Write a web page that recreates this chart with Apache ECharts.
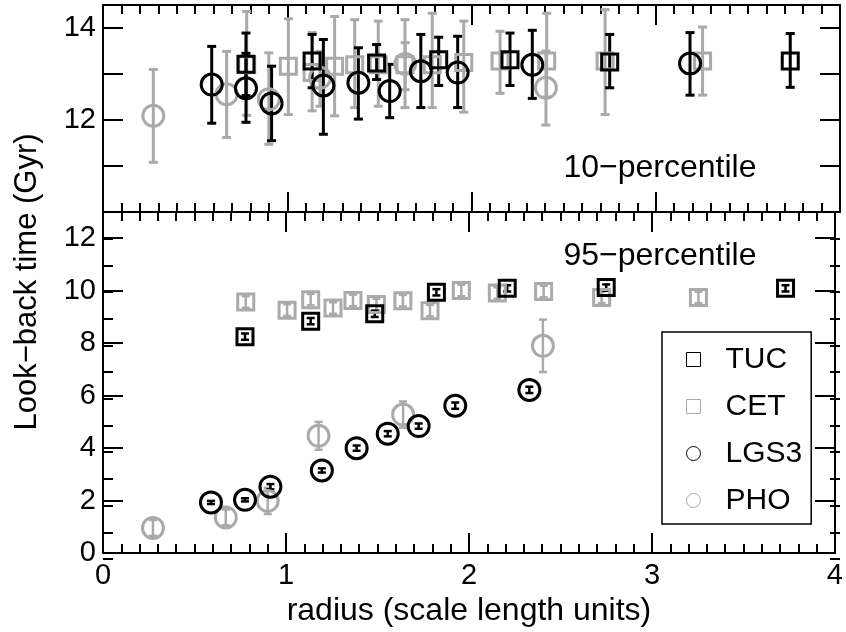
<!DOCTYPE html>
<html>
<head>
<meta charset="utf-8">
<script src="https://cdn.jsdelivr.net/npm/echarts@6/dist/echarts.min.js"></script>
<style>
html, body { margin: 0; padding: 0; background: #fff; }
#chart { width: 846px; height: 632px; }
</style>
</head>
<body>
<div id="chart"></div>
<script>
// radius in scale-length units, look-back time in Gyr
// top panel = 10-percentile (value, lower, upper), bottom panel = 95-percentile (value, +/- error)
const tucX      = [0.776, 1.135, 1.485, 1.822, 2.209, 2.75, 3.73];
const tucP10    = [13.21, 13.28, 13.24, 13.31, 13.31, 13.26, 13.28];
const tucP10Lo  = [12.53, 12.70, 12.88, 12.75, 12.75, 12.70, 12.71];
const tucP10Hi  = [13.89, 13.86, 13.64, 13.80, 13.89, 13.86, 13.88];
const tucP95    = [8.25, 8.84, 9.12, 9.94, 10.09, 10.12, 10.09];
const tucP95Err = [0.12, 0.12, 0.12, 0.12, 0.12, 0.12, 0.12];

const cetX      = [0.78, 1.006, 1.135, 1.257, 1.366, 1.494, 1.639, 1.787, 1.958, 2.155, 2.408, 2.725, 3.254];
const cetP10    = [13.2, 13.17, 13.03, 13.17, 13.2, 13.2, 13.2, 13.2, 13.25, 13.28, 13.28, 13.28, 13.28];
const cetP10Lo  = [12.1, 12.12, 12.2, 12.09, 12.27, 12.3, 12.27, 12.27, 12.17, 12.58, 12.5, 12.12, 12.54];
const cetP10Hi  = [14.36, 14.2, 13.9, 14.25, 14.18, 14.15, 14.18, 14.32, 14.15, 13.93, 14.32, 14.4, 14.02];
const cetP95    = [9.57, 9.26, 9.66, 9.34, 9.63, 9.47, 9.62, 9.24, 10.01, 9.91, 9.97, 9.74, 9.74];
const cetP95Err = [0.22, 0.22, 0.22, 0.22, 0.22, 0.22, 0.22, 0.22, 0.22, 0.22, 0.22, 0.22, 0.22];

const lgs3X      = [0.59, 0.776, 0.915, 1.196, 1.386, 1.556, 1.725, 1.925, 2.33, 3.186];
const lgs3P10    = [12.77, 12.69, 12.36, 12.75, 12.81, 12.63, 13.06, 13.03, 13.2, 13.23];
const lgs3P10Lo  = [11.93, 11.95, 11.55, 11.69, 12.02, 12.05, 12.27, 12.27, 12.47, 12.54];
const lgs3P10Hi  = [13.6, 13.45, 13.17, 13.75, 13.57, 13.21, 13.86, 13.82, 13.95, 13.9];
const lgs3P95    = [1.93, 2.03, 2.53, 3.15, 4.0, 4.55, 4.84, 5.62, 6.22, null];
const lgs3P95Err = [0.06, 0.06, 0.1, 0.08, 0.1, 0.1, 0.1, 0.12, 0.12, null];

const phoX      = [0.273, 0.671, 0.9, 1.178, 1.64, 2.404];
const phoP10    = [12.09, 12.56, 12.45, 12.92, 13.22, 12.7];
const phoP10Lo  = [11.08, 11.62, 11.47, 12.3, 12.66, 11.89];
const phoP10Hi  = [13.1, 13.49, 13.46, 13.49, 13.68, 13.5];
const phoP95    = [0.96, 1.36, 1.99, 4.47, 5.28, 7.9];
const phoP95Err = [0.3, 0.3, 0.5, 0.53, 0.5, 1.0];

const xTicks = [0, 1, 2, 3, 4];
const topLabels = [12, 14];
const bottomLabels = [0, 2, 4, 6, 8, 10, 12];

const FONT = "'Liberation Sans', Arial, Helvetica, sans-serif";
const BLACK = '#000000';
const GRAY = '#aaaaaa';

function errorBarRenderer(color, cap, width) {
  return function (params, api) {
    const x = api.value(0);
    const lo = api.coord([x, api.value(1)]);
    const hi = api.coord([x, api.value(2)]);
    const mk = (x1, y1, x2, y2) => ({
      type: 'line',
      shape: { x1: x1, y1: y1, x2: x2, y2: y2 },
      style: { stroke: color, lineWidth: width }
    });
    return {
      type: 'group',
      children: [
        mk(lo[0], lo[1], hi[0], hi[1]),
        mk(lo[0] - cap, lo[1], lo[0] + cap, lo[1]),
        mk(hi[0] - cap, hi[1], hi[0] + cap, hi[1])
      ]
    };
  };
}

function errRows(x, lo, hi) {
  const out = [];
  for (let i = 0; i < x.length; i++) {
    if (lo[i] == null) continue;
    out.push([x[i], lo[i], hi[i]]);
  }
  return out;
}
function symErrRows(x, y, e) {
  const out = [];
  for (let i = 0; i < x.length; i++) {
    if (y[i] == null) continue;
    out.push([x[i], y[i] - e[i], y[i] + e[i]]);
  }
  return out;
}
function pts(x, y) {
  const out = [];
  for (let i = 0; i < x.length; i++) {
    if (y[i] == null) continue;
    out.push([x[i], y[i]]);
  }
  return out;
}

function errSeries(name, color, panel, rows, cap, width) {
  return {
    name: name,
    type: 'custom',
    xAxisIndex: panel === 0 ? 0 : 2,
    yAxisIndex: panel === 0 ? 0 : 2,
    silent: true,
    animation: false,
    renderItem: errorBarRenderer(color, cap, width),
    encode: { x: 0, y: [1, 2] },
    data: rows
  };
}
function markSeries(name, color, panel, data, symbol, size) {
  return {
    name: name,
    type: 'scatter',
    xAxisIndex: panel === 0 ? 0 : 2,
    yAxisIndex: panel === 0 ? 0 : 2,
    silent: true,
    animation: false,
    symbol: symbol,
    symbolSize: size,
    itemStyle: { color: 'rgba(0,0,0,0)', borderColor: color, borderWidth: 3, opacity: 1 },
    data: data
  };
}

function xAxisCfg(gridIndex, position, labels) {
  return {
    type: 'value', gridIndex: gridIndex, position: position,
    min: 0, max: 4, interval: 1,
    axisLine: { show: true, onZero: false, lineStyle: { color: BLACK, width: 2 } },
    axisTick: { show: true, inside: true, length: 20, lineStyle: { color: BLACK, width: 2 } },
    minorTick: { show: true, splitNumber: 10, length: 9, lineStyle: { color: BLACK, width: 2 } },
    splitLine: { show: false },
    axisLabel: {
      show: labels, fontSize: 29, fontFamily: FONT, color: BLACK, margin: 8,
      formatter: v => (xTicks.indexOf(v) >= 0 ? String(v) : '')
    }
  };
}
function yAxisCfg(gridIndex, position, min, max, interval, len, labelList, line) {
  return {
    type: 'value', gridIndex: gridIndex, position: position,
    min: min, max: max, interval: interval,
    axisLine: { show: line, onZero: false, lineStyle: { color: BLACK, width: 2 } },
    axisTick: { show: true, inside: true, length: len, lineStyle: { color: BLACK, width: 2 } },
    splitLine: { show: false },
    axisLabel: {
      show: !!labelList, fontSize: 29, fontFamily: FONT, color: BLACK, margin: 7,
      formatter: v => (labelList && labelList.indexOf(v) >= 0 ? String(v) : '')
    }
  };
}

const series = [
  // gray first, black on top
  errSeries('CET', GRAY, 0, errRows(cetX, cetP10Lo, cetP10Hi), 4.5, 3),
  markSeries('CET', GRAY, 0, pts(cetX, cetP10), 'rect', 16),
  errSeries('PHO', GRAY, 0, errRows(phoX, phoP10Lo, phoP10Hi), 4.5, 3),
  markSeries('PHO', GRAY, 0, pts(phoX, phoP10), 'circle', 21),
  errSeries('TUC', BLACK, 0, errRows(tucX, tucP10Lo, tucP10Hi), 4.5, 3),
  markSeries('TUC', BLACK, 0, pts(tucX, tucP10), 'rect', 16),
  errSeries('LGS3', BLACK, 0, errRows(lgs3X, lgs3P10Lo, lgs3P10Hi), 4.5, 3),
  markSeries('LGS3', BLACK, 0, pts(lgs3X, lgs3P10), 'circle', 21),

  errSeries('CET', GRAY, 1, symErrRows(cetX, cetP95, cetP95Err), 4, 2.5),
  markSeries('CET', GRAY, 1, pts(cetX, cetP95), 'rect', 16),
  errSeries('PHO', GRAY, 1, symErrRows(phoX, phoP95, phoP95Err), 4, 2.5),
  markSeries('PHO', GRAY, 1, pts(phoX, phoP95), 'circle', 21),
  errSeries('TUC', BLACK, 1, symErrRows(tucX, tucP95, tucP95Err), 4, 2.5),
  markSeries('TUC', BLACK, 1, pts(tucX, tucP95), 'rect', 16),
  errSeries('LGS3', BLACK, 1, symErrRows(lgs3X, lgs3P95, lgs3P95Err), 4, 2.5),
  markSeries('LGS3', BLACK, 1, pts(lgs3X, lgs3P95), 'circle', 21)
];

const chart = echarts.init(document.getElementById('chart'), null, { renderer: 'canvas' });
chart.setOption({
  backgroundColor: '#ffffff',
  animation: false,
  grid: [
    { left: 103, right: 6, top: 5, height: 207 },
    { left: 103, right: 6, top: 212, bottom: 73 },
    { left: 103, right: 6, top: 212, bottom: 73 } // short odd-value ticks of the lower panel
  ],
  xAxis: [
    xAxisCfg(0, 'bottom', false),
    xAxisCfg(0, 'top', false),
    Object.assign(xAxisCfg(1, 'bottom', true), {
      name: 'radius (scale length units)',
      nameLocation: 'middle',
      nameGap: 38,
      nameTextStyle: { fontSize: 32, fontFamily: FONT, color: BLACK }
    }),
    xAxisCfg(1, 'top', false),
    { type: 'value', gridIndex: 2, min: 0, max: 4, show: false }
  ],
  yAxis: [
    yAxisCfg(0, 'left', 10, 14.5, 1, 20, topLabels, true),
    yAxisCfg(0, 'right', 10, 14.5, 1, 20, null, true),
    yAxisCfg(1, 'left', 0, 13, 2, 20, bottomLabels, true),
    yAxisCfg(1, 'right', 0, 13, 2, 20, null, true),
    yAxisCfg(2, 'left', 0, 13, 1, 10, null, false),
    yAxisCfg(2, 'right', 0, 13, 1, 10, null, false)
  ],
  legend: {
    orient: 'vertical',
    left: 662,
    top: 332,
    padding: [12, 9, 8, 24],
    itemGap: 16,
    itemWidth: 14,
    itemHeight: 14,
    selectedMode: false,
    borderColor: BLACK,
    borderWidth: 1.5,
    borderRadius: 0,
    textStyle: { fontSize: 30, fontFamily: FONT, color: BLACK, lineHeight: 31, padding: [0, 0, 0, 20] },
    data: [
      { name: 'TUC', icon: 'rect', itemStyle: { color: 'rgba(0,0,0,0)', borderColor: BLACK, borderWidth: 1 } },
      { name: 'CET', icon: 'rect', itemStyle: { color: 'rgba(0,0,0,0)', borderColor: GRAY, borderWidth: 1 } },
      { name: 'LGS3', icon: 'circle', itemStyle: { color: 'rgba(0,0,0,0)', borderColor: BLACK, borderWidth: 1 } },
      { name: 'PHO', icon: 'circle', itemStyle: { color: 'rgba(0,0,0,0)', borderColor: GRAY, borderWidth: 1 } }
    ]
  },
  graphic: [
    {
      type: 'text', x: 27, y: 282, rotation: Math.PI / 2, silent: true,
      style: { text: 'Look\u2212back time (Gyr)', font: '31px ' + FONT, fill: BLACK,
               align: 'center', verticalAlign: 'middle', textAlign: 'center', textVerticalAlign: 'middle' }
    },
    {
      type: 'text', x: 660, y: 168, silent: true,
      style: { text: '10\u2212percentile', font: '32px ' + FONT, fill: BLACK,
               align: 'center', verticalAlign: 'middle', textAlign: 'center', textVerticalAlign: 'middle' }
    },
    {
      type: 'text', x: 660, y: 256, silent: true,
      style: { text: '95\u2212percentile', font: '32px ' + FONT, fill: BLACK,
               align: 'center', verticalAlign: 'middle', textAlign: 'center', textVerticalAlign: 'middle' }
    }
  ],
  series: series
});
</script>
</body>
</html>
